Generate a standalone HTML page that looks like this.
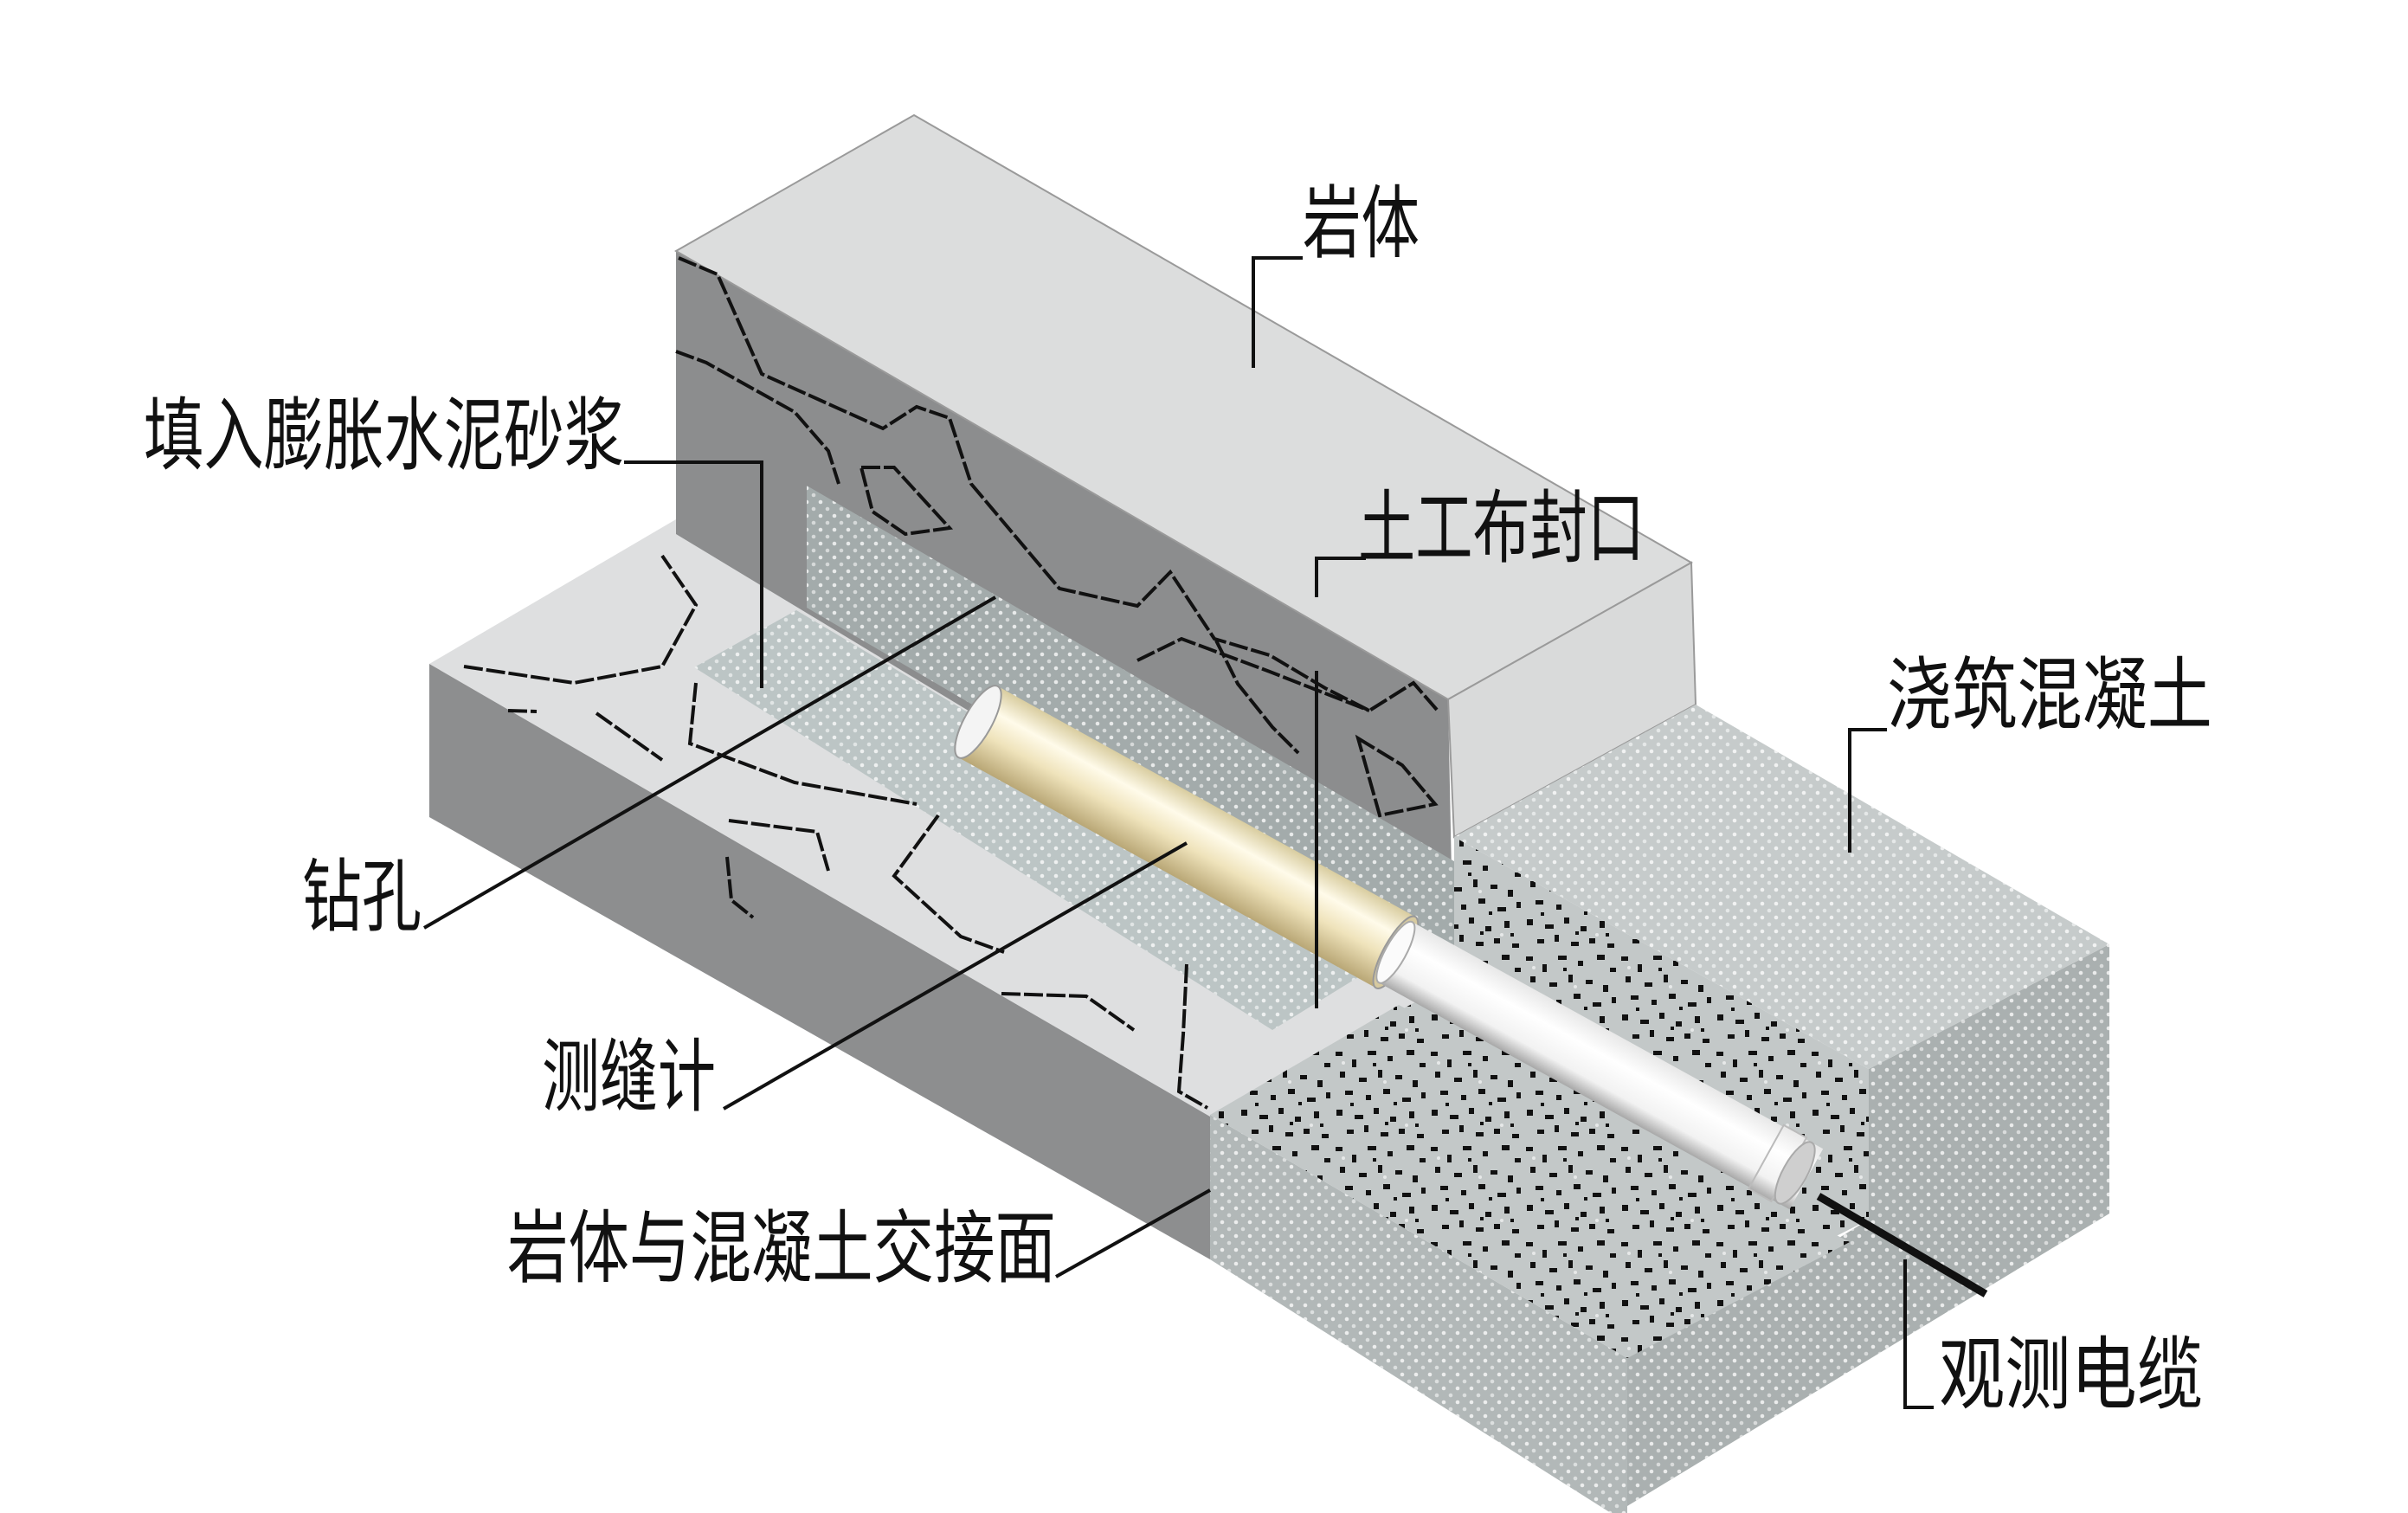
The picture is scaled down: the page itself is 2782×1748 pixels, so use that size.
<!DOCTYPE html>
<html><head><meta charset="utf-8"><style>
html,body{margin:0;padding:0;background:#fff}
svg{display:block}
text{font-family:"Liberation Sans","Noto Sans CJK SC","WenQuanYi Zen Hei",sans-serif;fill:#111}
</style></head><body>
<svg width="2782" height="1748" viewBox="0 0 2782 1748" xmlns="http://www.w3.org/2000/svg">
<defs>
<pattern id="dots" width="16" height="16" patternUnits="userSpaceOnUse"><circle cx="4" cy="4" r="2.3" fill="#fff" opacity="0.75"/><circle cx="12" cy="12" r="2.3" fill="#fff" opacity="0.55"/></pattern>
<pattern id="speck" width="110" height="110" patternUnits="userSpaceOnUse">
<rect width="110" height="110" fill="#c3c8c8"/>
<g fill="#111">
<rect x="3" y="5" width="8" height="5"/><rect x="22" y="14" width="5" height="9"/><rect x="40" y="4" width="10" height="5"/><rect x="63" y="10" width="6" height="6"/><rect x="85" y="3" width="9" height="6"/><rect x="100" y="18" width="7" height="5"/>
<rect x="8" y="28" width="6" height="7"/><rect x="30" y="35" width="9" height="5"/><rect x="52" y="26" width="5" height="9"/><rect x="72" y="32" width="8" height="5"/><rect x="92" y="38" width="6" height="8"/>
<rect x="14" y="50" width="9" height="5"/><rect x="38" y="55" width="6" height="6"/><rect x="58" y="48" width="8" height="6"/><rect x="80" y="58" width="10" height="5"/><rect x="102" y="52" width="5" height="7"/>
<rect x="4" y="72" width="7" height="7"/><rect x="25" y="78" width="10" height="5"/><rect x="47" y="70" width="6" height="7"/><rect x="66" y="80" width="7" height="6"/><rect x="88" y="74" width="6" height="8"/>
<rect x="16" y="95" width="8" height="5"/><rect x="36" y="90" width="5" height="8"/><rect x="55" y="98" width="9" height="5"/><rect x="76" y="94" width="7" height="6"/><rect x="97" y="100" width="8" height="5"/>
<rect x="46" y="18" width="4" height="4"/><rect x="70" y="63" width="4" height="4"/><rect x="20" y="64" width="4" height="4"/><rect x="60" y="86" width="4" height="4"/><rect x="95" y="88" width="4" height="4"/>
</g>
<circle cx="12" cy="18" r="2" fill="#fff" opacity=".6"/><circle cx="60" cy="40" r="2" fill="#fff" opacity=".6"/><circle cx="85" cy="90" r="2" fill="#fff" opacity=".6"/>
</pattern>
<linearGradient id="beige" x1="0" y1="0" x2="0" y2="1">
<stop offset="0" stop-color="#d9cda0"/><stop offset="0.3" stop-color="#fffbea"/><stop offset="0.6" stop-color="#efe3bb"/><stop offset="1" stop-color="#b9a776"/></linearGradient>
<linearGradient id="white" x1="0" y1="0" x2="0" y2="1">
<stop offset="0" stop-color="#e8e8e8"/><stop offset="0.35" stop-color="#ffffff"/><stop offset="0.75" stop-color="#f2f2f2"/><stop offset="1" stop-color="#a8a8a8"/></linearGradient>
</defs>

<!-- slab (left base) -->
<polygon points="496,767 781,600 1720,1150 1398,1290" fill="#dedfe0"/>
<polygon points="496,767 1398,1290 1398,1455 496,944" fill="#8d8e8f"/>

<!-- rock block -->
<polygon points="781,290 1673,808 1680,1160 781,617" fill="#8c8d8e"/>
<polygon points="781,290 1056,133 1954,650 1673,808" fill="#dcdddd" stroke="#9a9a9a" stroke-width="2"/>
<polygon points="1673,808 1954,650 1959,814 1680,967" fill="#d9dada" stroke="#9a9a9a" stroke-width="2"/>

<!-- groove wall -->
<polygon points="932,561 1680,995 1680,1140 932,702" fill="#a3abab"/>
<polygon points="932,561 1680,995 1680,1140 932,702" fill="url(#dots)"/>
<!-- mortar band on slab -->
<polygon points="802,771 920,705 1600,1110 1470,1190" fill="#bcc5c5"/>
<polygon points="802,771 920,705 1600,1110 1470,1190" fill="url(#dots)"/>

<!-- rock cracks -->
<g fill="none" stroke="#111" stroke-width="4" stroke-dasharray="22 4">
<polyline points="784,298 829,317 880,432 1020,495 1059,470 1097,483 1122,559 1224,680 1314,700 1352,661 1403,738 1467,757 1531,795 1582,821 1633,789 1660,820"/>
<polyline points="781,406 816,419 918,476 957,521 969,559"/>
<polygon points="995,540 1033,540 1097,610 1046,617 1008,591"/>
<polyline points="1314,763 1365,738 1467,776 1582,821"/>
<polygon points="1569,853 1620,884 1658,929 1594,942"/>
<polyline points="1405,740 1430,790 1470,840 1500,870"/>
</g>
<!-- slab cracks -->
<g fill="none" stroke="#111" stroke-width="4" stroke-dasharray="22 4">
<polyline points="536,770 663,789 765,770 804,699 765,642"/>
<polyline points="587,821 620,822"/><polyline points="689,824 765,878"/>
<polyline points="804,789 797,859 918,904 1059,929"/>
<polyline points="842,948 944,961 957,1006"/>
<polyline points="1084,942 1033,1012 1110,1082 1160,1100"/>
<polyline points="1157,1148 1255,1151 1310,1190"/>
<polyline points="1371,1114 1367,1195 1362,1261 1395,1280"/>
<polyline points="840,990 845,1040 870,1060"/>
</g>

<!-- concrete block -->
<polygon points="1398,1288 1880,1569 1880,1760 1398,1455" fill="#b2b8b8"/>
<polygon points="1398,1288 1880,1569 1880,1760 1398,1455" fill="url(#dots)"/>
<polygon points="1880,1569 2094,1449 2159,1409 2159,1235 2437,1091 2437,1402 1880,1740" fill="#aab0b0"/>
<polygon points="1880,1569 2094,1449 2159,1409 2159,1235 2437,1091 2437,1402 1880,1740" fill="url(#dots)"/>
<polygon points="1680,967 1959,814 2437,1091 2159,1235" fill="#c6cbcb"/>
<polygon points="1680,967 1959,814 2437,1091 2159,1235" fill="url(#dots)"/>
<polygon points="1680,967 2159,1235 2159,1409 2094,1442 1616,1168 1680,1134" fill="url(#speck)"/>
<polygon points="1398,1288 1616,1161 2137,1435 1880,1569" fill="url(#speck)"/>

<!-- tube -->
<g transform="translate(1130,834) rotate(28.9)">
<rect x="0" y="-47" width="551" height="94" fill="url(#beige)"/>
<ellipse cx="0" cy="0" rx="16" ry="47" fill="#f4f4f4" stroke="#999" stroke-width="2"/>
<ellipse cx="551" cy="0" rx="14" ry="47" fill="#d7caa0" stroke="#999" stroke-width="2"/>
<rect x="551" y="-40" width="542" height="80" fill="url(#white)"/>
<ellipse cx="551" cy="0" rx="12" ry="40" fill="#fbfbfb" stroke="#aaa" stroke-width="2"/>
<rect x="1040" y="-42" width="30" height="84" fill="url(#white)" stroke="#bbb" stroke-width="2"/>
<ellipse cx="1078" cy="0" rx="14" ry="40" fill="#cfcfcf" stroke="#aaa" stroke-width="2"/>
</g>
<line x1="2101" y1="1382" x2="2294" y2="1495" stroke="#111" stroke-width="9"/>

<!-- leaders -->
<g fill="none" stroke="#111" stroke-width="4">
<polyline points="1505,298 1448,298 1448,425"/>
<polyline points="721,534 880,534 880,795"/>
<polyline points="1578,645 1521,645 1521,690"/>
<line x1="1521" y1="775" x2="1521" y2="1165"/>
<line x1="490" y1="1072" x2="1150" y2="690"/>
<line x1="836" y1="1281" x2="1371" y2="974"/>
<line x1="1220" y1="1475" x2="1398" y2="1375"/>
<polyline points="2180,843 2137,843 2137,985"/>
<polyline points="2234,1626 2201,1626 2201,1455"/>
</g>

<!-- labels -->
<g font-size="92">
<text x="1505" y="290" textLength="135" lengthAdjust="spacingAndGlyphs">岩体</text>
<text x="166" y="535" textLength="555" lengthAdjust="spacingAndGlyphs">填入膨胀水泥砂浆</text>
<text x="1569" y="642" textLength="331" lengthAdjust="spacingAndGlyphs">土工布封口</text>
<text x="349" y="1068" textLength="138" lengthAdjust="spacingAndGlyphs">钻孔</text>
<text x="626" y="1276" textLength="201" lengthAdjust="spacingAndGlyphs">测缝计</text>
<text x="586" y="1474" textLength="634" lengthAdjust="spacingAndGlyphs">岩体与混凝土交接面</text>
<text x="2180" y="835" textLength="376" lengthAdjust="spacingAndGlyphs">浇筑混凝土</text>
<text x="2240" y="1620" textLength="305" lengthAdjust="spacingAndGlyphs">观测电缆</text>
</g>
</svg>
</body></html>
